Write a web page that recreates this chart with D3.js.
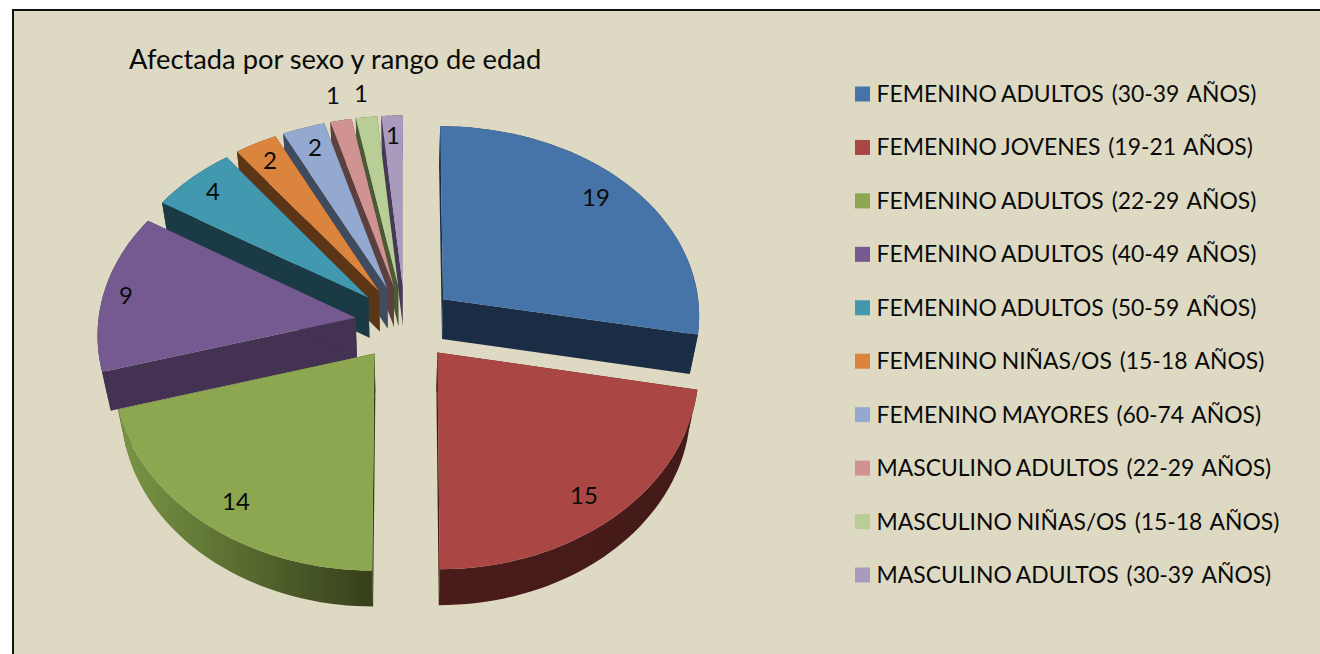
<!DOCTYPE html>
<html><head><meta charset="utf-8">
<script src="https://cdn.jsdelivr.net/npm/d3@7/dist/d3.min.js"></script>
<style>html,body{margin:0;padding:0;background:#fff}svg{display:block}text{font-family:Lato,"Open Sans",sans-serif;fill:#0a0a0a}</style>
</head><body><svg id="c" width="1320" height="654"></svg>
<script>
const chartTitle = "Afectada por sexo y rango de edad";
const categories = ["FEMENINO ADULTOS (30-39 AÑOS)","FEMENINO JOVENES (19-21 AÑOS)","FEMENINO ADULTOS (22-29 AÑOS)","FEMENINO ADULTOS (40-49 AÑOS)","FEMENINO ADULTOS (50-59 AÑOS)","FEMENINO NIÑAS/OS (15-18 AÑOS)","FEMENINO MAYORES (60-74 AÑOS)","MASCULINO ADULTOS (22-29 AÑOS)","MASCULINO NIÑAS/OS (15-18 AÑOS)","MASCULINO ADULTOS (30-39 AÑOS)"];
const values = [19,15,14,9,4,2,2,1,1,1];

const topColors  = ["#4674a9","#aa4643","#8ca74f","#745a90","#4198af","#db843d","#93a9cf","#d19392","#b9cd96","#a99bbd"];
const sideColors = ["#1b2d45","#431a19","#353f1a","#433252","#1a3b46","#5c3516","#3f4c60","#5c4040","#4b5a35","#443a56"];
const rimLight   = ["#1b2d45","#4a1c1a","#7a9645","#433252","#1a3b46","#5c3516","#3f4c60","#5c4040","#4b5a35","#443a56"];
const labelAt = [[596,196],[584,494],[236,500],[126,294],[213,190],[270,159],[315,146],[333,94],[361,92],[393,134]];

const svg = d3.select("#c");
const W=1320,H=654;
svg.append("rect").attr("width",W).attr("height",H).attr("fill","#fff");
svg.append("rect").attr("x",13).attr("y",10).attr("width",W).attr("height",H).attr("fill","#ddd9c3").attr("stroke","#111").attr("stroke-width",2);

const defs = svg.append("defs");
const cx=405, cy=323, R=257.5, explode=50;
const pie = d3.pie().sort(null).value(d=>d);
const arcs = pie(values);
const line = d3.line();

// oblique view: plane position -> screen, nearer parts are larger
function project(a,r,ex,ev,z){
  const u = ex + r*Math.sin(a);
  const v = ev - r*Math.cos(a);
  const xp = cx + u*(1+0.0003*v)*(1-0.028*z);
  const yp = cy + 0.755*v + 0.00026*v*v + z*(39.5-0.012*v);
  return [xp,yp];
}
const slices = arcs.map((d,i)=>{
  const mid=(d.startAngle+d.endAngle)/2;
  return {i,d,mid,ex:explode*Math.sin(mid),ev:-explode*Math.cos(mid)};
});
const samples = s=>d3.range(0,41).map(k=>s.d.startAngle+(s.d.endAngle-s.d.startAngle)*k/40);

// painter order: far slices first
const order = slices.slice().sort((a,b)=>Math.cos(b.mid)-Math.cos(a.mid));
const g = svg.append("g");
order.forEach(s=>{
  const P=(a,r,z)=>project(a,r,s.ex,s.ev,z);
  const gr = defs.append("linearGradient").attr("id","rim"+s.i).attr("gradientUnits","userSpaceOnUse")
     .attr("x1",P(s.d.startAngle,R,0)[0]).attr("x2",P(s.d.endAngle,R,0)[0]).attr("y1",0).attr("y2",0);
  gr.append("stop").attr("offset",0).attr("stop-color",sideColors[s.i]);
  gr.append("stop").attr("offset",1).attr("stop-color",rimLight[s.i]);
  const a=samples(s);
  // radial faces
  [s.d.startAngle,s.d.endAngle].forEach(t=>{
    g.append("path").attr("d",line([P(t,0,0),P(t,R,0),P(t,R,1),P(t,0,1)])+"Z").attr("fill",sideColors[s.i]);
  });
  // rim
  g.append("path").attr("d",line(a.map(t=>P(t,R,0)).concat(a.slice().reverse().map(t=>P(t,R,1))))+"Z").attr("fill",`url(#rim${s.i})`);
  // top face
  g.append("path").attr("d",line([P(0,0,0)].concat(a.map(t=>P(t,R,0))))+"Z").attr("fill",topColors[s.i]);
});

// data labels
svg.append("g").selectAll("text").data(values).join("text")
  .attr("x",(d,i)=>labelAt[i][0]).attr("y",(d,i)=>labelAt[i][1])
  .attr("text-anchor","middle").attr("dominant-baseline","central")
  .attr("font-size",24).text(d=>d);

// title
svg.append("text").attr("x",129).attr("y",69).attr("font-size",27.3).text(chartTitle);

// legend
const ly = d3.scalePoint().domain(categories).range([94,575]);
const leg = svg.append("g").selectAll("g").data(categories).join("g").attr("transform",d=>`translate(0,${ly(d)})`);
leg.append("rect").attr("x",855).attr("y",-7.5).attr("width",15).attr("height",15).attr("fill",(d,i)=>topColors[i]);
const lt = leg.append("text").attr("x",876.5).attr("y",8).attr("font-size",22.9).attr("word-spacing",2);
lt.append("tspan").text(d=>d.slice(0,d.indexOf(" ")));
lt.append("tspan").attr("dx",-3).text(d=>d.slice(d.indexOf(" ")));
</script></body></html>
